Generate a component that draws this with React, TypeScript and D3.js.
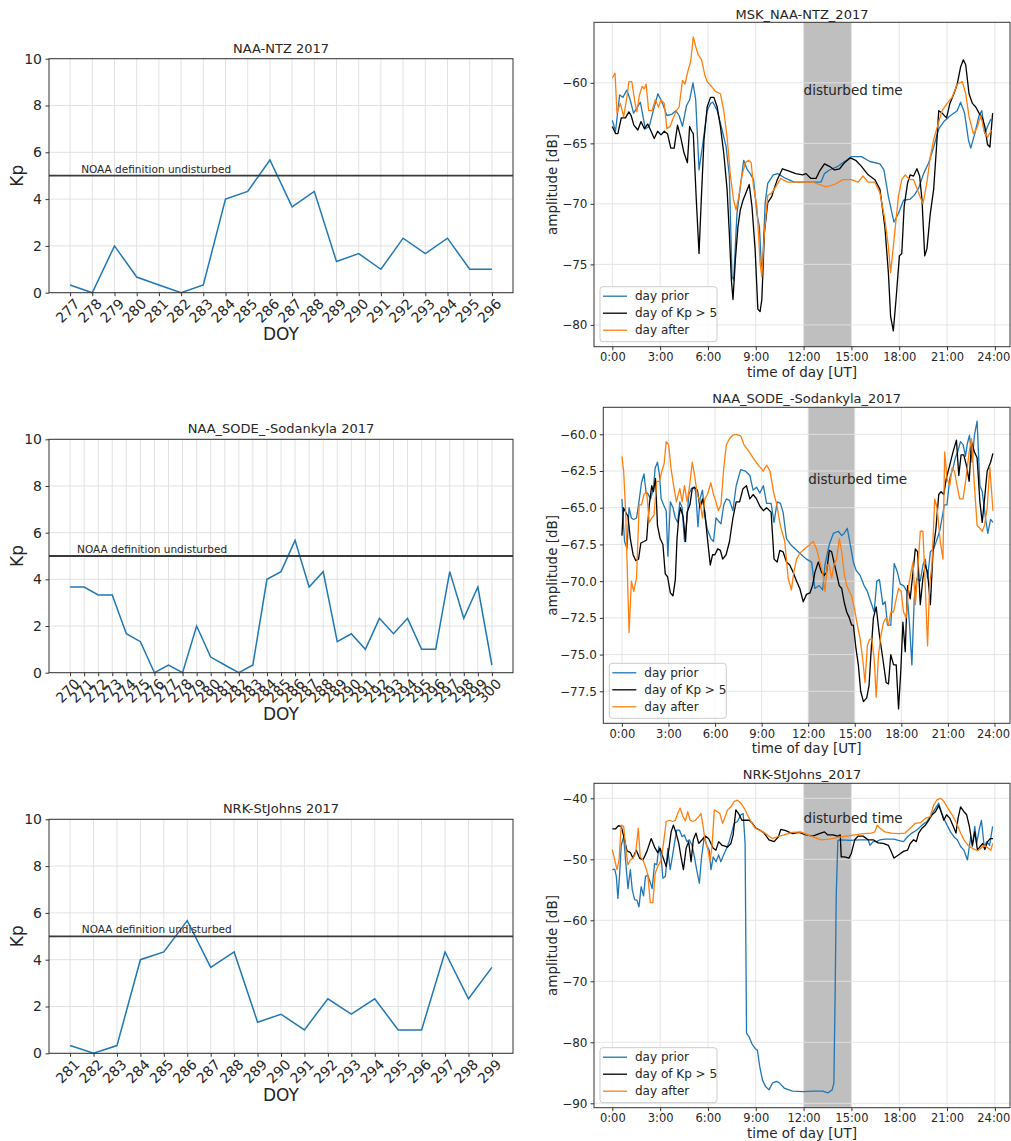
import React, { useRef, useEffect } from 'react';
import * as d3 from 'd3';

// Kp index per day of year
const ntzDoy = [277, 278, 279, 280, 281, 282, 283, 284, 285, 286, 287, 288, 289, 290, 291, 292, 293, 294, 295, 296];
const ntzKp = [0.33, 0, 2, 0.67, 0.33, 0, 0.33, 4, 4.33, 5.67, 3.67, 4.33, 1.33, 1.67, 1, 2.33, 1.67, 2.33, 1, 1];

const sodeDoy = [270, 271, 272, 273, 274, 275, 276, 277, 278, 279, 280, 281, 282, 283, 284, 285, 286, 287, 288, 289, 290, 291, 292, 293, 294, 295, 296, 297, 298, 299, 300];
const sodeKp = [3.67, 3.67, 3.33, 3.33, 1.67, 1.33, 0, 0.33, 0, 2, 0.67, 0.33, 0, 0.33, 4, 4.33, 5.67, 3.67, 4.33, 1.33, 1.67, 1, 2.33, 1.67, 2.33, 1, 1, 4.33, 2.33, 3.67, 0.33];

const stjDoy = [281, 282, 283, 284, 285, 286, 287, 288, 289, 290, 291, 292, 293, 294, 295, 296, 297, 298, 299];
const stjKp = [0.33, 0, 0.33, 4, 4.33, 5.67, 3.67, 4.33, 1.33, 1.67, 1, 2.33, 1.67, 2.33, 1, 1, 4.33, 2.33, 3.67];

const kpTicks = [0, 2, 4, 6, 8, 10];
const kpThreshold = 5;

const hourTicks = [0, 3, 6, 9, 12, 15, 18, 21, 24];
const hourLabels = ['0:00', '3:00', '6:00', '9:00', '12:00', '15:00', '18:00', '21:00', '24:00'];
const disturbedSpan = [12, 15];
const seriesNames = ['day prior', 'day of Kp > 5', 'day after'];

// amplitude [dB] vs hour of day, [hour, dB]
const ntzPrior = [[0,-63.1],[0.2,-64.0],[0.46,-61.0],[0.66,-61.2],[0.91,-60.6],[1.12,-61.4],[1.33,-62.5],[1.62,-61.9],[1.76,-61.6],[2.07,-63.8],[2.32,-63.6],[2.57,-62.3],[2.86,-60.9],[3.15,-61.7],[3.42,-62.7],[3.73,-62.6],[3.98,-62.3],[4.19,-62.7],[4.4,-63.6],[4.65,-61.9],[4.85,-61.4],[5.06,-60.0],[5.23,-61.4],[5.44,-67.2],[5.68,-65.0],[5.95,-62.3],[6.16,-61.7],[6.31,-61.6],[6.58,-62.3],[6.89,-63.9],[7.14,-65.3],[7.34,-67.7],[7.51,-76.0],[7.61,-76.3],[7.82,-70.8],[8.03,-68.6],[8.24,-66.4],[8.44,-67.1],[8.65,-67.5],[8.86,-68.0],[9.07,-70.8],[9.23,-71.9],[9.34,-74.9],[9.42,-75.4],[9.59,-69.9],[9.75,-68.3],[10.1,-67.6],[10.37,-67.5],[10.88,-67.9],[11.41,-68.2],[12,-68.2],[12.78,-68.2],[13.1,-68.2],[13.31,-67.5],[13.62,-67.2],[14.15,-66.9],[14.57,-66.5],[15.0,-66.1],[15.63,-66.1],[16.16,-66.5],[16.79,-66.7],[17.04,-67.2],[17.32,-69.4],[17.67,-71.5],[17.95,-70.8],[18.27,-69.7],[18.69,-69.6],[18.94,-69.3],[19.22,-68.7],[19.53,-67.5],[19.85,-66.6],[20.16,-65.3],[20.48,-63.8],[20.8,-63.2],[21.22,-62.7],[21.64,-62.3],[21.85,-61.6],[22.1,-62.5],[22.34,-64.7],[22.49,-65.4],[22.74,-64.2],[23.01,-62.7],[23.18,-62.3],[23.37,-64.2],[23.54,-63.6],[23.75,-63.0]];
const ntzStorm = [[0,-63.6],[0.21,-64.2],[0.35,-64.2],[0.56,-62.9],[0.83,-62.9],[1.04,-62.4],[1.18,-62.7],[1.35,-63.5],[1.6,-63.9],[1.8,-63.2],[2.01,-63.8],[2.22,-63.4],[2.43,-64.0],[2.63,-64.6],[2.84,-64.0],[3.05,-64.3],[3.26,-64.0],[3.46,-64.2],[3.67,-65.4],[3.88,-65.4],[4.09,-63.5],[4.29,-64.5],[4.5,-65.8],[4.71,-66.6],[4.85,-63.6],[4.98,-64.0],[5.08,-64.2],[5.27,-69.7],[5.44,-74.1],[5.58,-69.7],[5.75,-64.7],[5.95,-62.0],[6.16,-61.2],[6.37,-61.2],[6.58,-62.0],[6.78,-63.6],[6.99,-65.8],[7.2,-68.8],[7.34,-72.4],[7.47,-76.3],[7.57,-77.9],[7.72,-74.6],[7.88,-71.9],[8.03,-70.5],[8.2,-69.7],[8.38,-69.1],[8.59,-68.4],[8.76,-70.2],[8.96,-73.8],[9.13,-78.7],[9.27,-78.9],[9.38,-77.9],[9.54,-72.4],[9.75,-69.9],[10.0,-69.4],[10.14,-68.8],[10.35,-68.0],[10.67,-67.1],[11.09,-67.3],[11.51,-67.5],[11.94,-67.6],[12.15,-67.5],[12.46,-67.9],[12.78,-67.9],[13.0,-67.3],[13.31,-66.7],[13.62,-66.9],[13.94,-67.2],[14.26,-67.1],[14.57,-66.6],[14.93,-66.2],[15.27,-66.4],[15.63,-66.9],[16.05,-67.6],[16.47,-68.0],[16.79,-68.8],[17.1,-71.9],[17.32,-75.7],[17.46,-79.3],[17.63,-80.5],[17.8,-77.9],[18.01,-74.3],[18.16,-74.1],[18.31,-70.2],[18.52,-68.3],[18.69,-67.6],[18.9,-67.7],[19.11,-67.1],[19.28,-67.7],[19.43,-69.7],[19.6,-74.3],[19.74,-73.7],[19.95,-70.8],[20.16,-68.8],[20.33,-65.5],[20.48,-62.3],[20.69,-62.5],[20.97,-62.9],[21.18,-61.7],[21.43,-60.9],[21.64,-60.1],[21.85,-58.7],[22.02,-58.1],[22.17,-58.5],[22.38,-60.9],[22.59,-61.7],[22.8,-62.0],[23.01,-62.5],[23.22,-62.9],[23.37,-63.6],[23.54,-65.1],[23.69,-65.3],[23.86,-62.5]];
const ntzAfter = [[0,-59.6],[0.17,-59.2],[0.29,-62.5],[0.5,-61.7],[0.71,-62.8],[0.91,-61.2],[1.04,-59.9],[1.22,-59.9],[1.43,-61.7],[1.54,-62.4],[1.7,-61.0],[1.87,-60.3],[2.01,-60.5],[2.12,-60.1],[2.28,-62.3],[2.49,-62.3],[2.7,-61.4],[2.9,-62.0],[3.05,-61.4],[3.26,-61.7],[3.42,-63.8],[3.63,-63.6],[3.82,-62.9],[4.02,-62.3],[4.19,-62.0],[4.4,-59.8],[4.56,-60.1],[4.75,-59.0],[4.92,-58.2],[5.08,-56.2],[5.23,-57.0],[5.39,-57.7],[5.6,-58.1],[5.81,-59.4],[5.95,-59.9],[6.22,-60.3],[6.47,-60.7],[6.78,-60.9],[6.99,-62.3],[7.2,-64.5],[7.41,-67.7],[7.61,-69.7],[7.76,-70.5],[7.93,-69.4],[8.13,-67.7],[8.34,-66.6],[8.55,-66.4],[8.71,-66.6],[8.86,-68.6],[9.07,-70.2],[9.27,-74.9],[9.38,-76.0],[9.54,-72.4],[9.75,-69.3],[10.0,-69.1],[10.25,-68.6],[10.57,-67.9],[10.99,-68.2],[11.51,-68.2],[12,-68.2],[12.57,-68.2],[12.99,-68.4],[13.41,-68.6],[13.94,-68.4],[14.47,-68.0],[15.0,-68.0],[15.42,-68.2],[15.73,-67.7],[16.05,-68.2],[16.47,-68.2],[16.79,-69.1],[17.1,-71.3],[17.32,-73.5],[17.46,-75.7],[17.67,-73.0],[17.95,-69.4],[18.16,-68.0],[18.37,-67.6],[18.65,-68.0],[18.9,-68.0],[19.22,-69.1],[19.49,-70.0],[19.74,-68.2],[19.95,-66.1],[20.16,-64.7],[20.42,-63.5],[20.69,-62.3],[21.0,-61.7],[21.32,-61.2],[21.64,-60.1],[21.96,-59.9],[22.17,-60.9],[22.38,-62.8],[22.65,-64.2],[22.86,-63.8],[23.12,-62.7],[23.33,-64.0],[23.54,-64.5],[23.79,-63.9]];

const sodePrior = [[0,-64.4],[0.07,-65.7],[0.17,-67.3],[0.33,-67.8],[0.46,-65.0],[0.61,-65.7],[0.76,-65.8],[0.94,-65.7],[1.11,-64.5],[1.26,-63.3],[1.42,-62.7],[1.55,-63.9],[1.7,-64.1],[1.85,-64.4],[2.03,-63.7],[2.14,-62.3],[2.29,-61.9],[2.42,-62.8],[2.53,-64.4],[2.68,-64.8],[2.85,-65.2],[2.96,-68.3],[3.12,-64.6],[3.29,-65.0],[3.44,-65.7],[3.59,-66.0],[3.73,-64.6],[3.88,-65.0],[4.03,-67.3],[4.2,-65.7],[4.31,-64.1],[4.47,-63.7],[4.64,-63.6],[4.75,-63.9],[4.9,-66.3],[5.03,-64.4],[5.19,-63.8],[5.34,-65.6],[5.51,-66.5],[5.73,-67.1],[5.9,-67.3],[6.06,-65.7],[6.21,-65.9],[6.38,-66.1],[6.56,-64.8],[6.73,-64.4],[6.93,-64.5],[7.15,-65.2],[7.36,-63.5],[7.65,-62.4],[7.95,-62.5],[8.24,-62.8],[8.45,-63.8],[8.67,-63.6],[8.89,-64.0],[9.11,-63.5],[9.32,-64.7],[9.61,-64.7],[9.8,-66.0],[10.0,-64.6],[10.21,-64.7],[10.38,-65.3],[10.6,-67.1],[10.86,-67.5],[11.25,-67.9],[11.57,-68.2],[11.89,-68.5],[12.22,-68.7],[12.43,-70.5],[12.71,-70.3],[12.93,-70.6],[13.08,-68.9],[13.36,-67.5],[13.62,-66.75],[13.94,-66.6],[14.16,-66.9],[14.31,-66.75],[14.52,-66.4],[14.69,-67.4],[14.91,-68.7],[15.08,-69.25],[15.34,-69.6],[15.6,-70.3],[15.81,-70.7],[16.03,-71.4],[16.25,-72.1],[16.42,-70.0],[16.59,-69.9],[16.81,-71.6],[16.96,-71.4],[17.11,-73.0],[17.32,-73.0],[17.54,-68.8],[17.75,-69.4],[17.93,-70.2],[18.14,-70.3],[18.36,-70.7],[18.53,-73.0],[18.68,-75.7],[18.83,-71.2],[19.0,-69.8],[19.22,-70.0],[19.39,-68.9],[19.54,-68.5],[19.69,-69.8],[19.87,-68.0],[20.08,-67.8],[20.25,-67.3],[20.47,-66.6],[20.62,-65.7],[20.77,-64.8],[20.94,-64.8],[21.12,-63.0],[21.33,-62.3],[21.48,-61.6],[21.63,-61.2],[21.81,-60.5],[21.98,-60.7],[22.13,-61.5],[22.24,-60.7],[22.39,-60.05],[22.56,-61.9],[22.71,-60.05],[22.88,-59.1],[23.06,-63.5],[23.21,-63.9],[23.42,-65.7],[23.57,-66.75],[23.75,-65.8],[23.9,-66.0]];
const sodeStorm = [[0,-66.9],[0.1,-65.0],[0.24,-65.3],[0.39,-65.6],[0.54,-67.1],[0.72,-68.2],[0.89,-68.6],[1.07,-68.5],[1.22,-67.4],[1.42,-67.3],[1.59,-67.2],[1.76,-64.8],[1.92,-63.5],[2.03,-63.9],[2.16,-63.0],[2.29,-66.2],[2.46,-67.1],[2.64,-67.5],[2.79,-69.5],[2.94,-69.7],[3.12,-70.8],[3.29,-71.0],[3.44,-69.9],[3.55,-67.1],[3.66,-65.7],[3.77,-65.0],[3.94,-65.6],[4.1,-67.3],[4.2,-65.3],[4.38,-64.8],[4.53,-63.7],[4.68,-63.6],[4.86,-63.8],[5.03,-65.0],[5.19,-64.4],[5.34,-65.3],[5.51,-67.1],[5.69,-68.9],[5.84,-68.2],[5.99,-68.2],[6.17,-67.8],[6.34,-67.9],[6.49,-68.5],[6.71,-68.2],[6.93,-67.3],[7.15,-65.7],[7.36,-64.6],[7.58,-64.6],[7.8,-63.7],[8.02,-63.5],[8.24,-64.4],[8.45,-64.1],[8.67,-64.4],[8.89,-64.9],[9.11,-65.2],[9.32,-65.0],[9.61,-65.3],[9.8,-68.5],[10.0,-68.7],[10.17,-67.9],[10.38,-68.0],[10.6,-68.7],[10.81,-68.9],[11.03,-69.4],[11.25,-70.0],[11.46,-70.5],[11.68,-71.4],[11.89,-70.9],[12.11,-70.8],[12.28,-70.3],[12.43,-69.4],[12.65,-68.7],[12.86,-69.4],[13.03,-69.6],[13.18,-69.4],[13.36,-67.9],[13.51,-68.0],[13.66,-68.7],[13.83,-69.5],[14.0,-70.3],[14.16,-70.5],[14.31,-71.4],[14.48,-72.1],[14.65,-72.5],[14.8,-73.0],[14.91,-73.0],[15.08,-74.6],[15.23,-75.7],[15.38,-77.5],[15.56,-78.2],[15.77,-77.95],[15.92,-77.1],[16.05,-74.8],[16.2,-72.5],[16.38,-71.75],[16.59,-73.7],[16.81,-75.3],[17.02,-76.9],[17.17,-77.0],[17.32,-75.0],[17.5,-75.7],[17.67,-75.7],[17.82,-78.7],[17.97,-76.0],[18.1,-72.8],[18.25,-74.8],[18.4,-70.3],[18.57,-71.2],[18.75,-69.4],[18.9,-67.8],[19.05,-68.0],[19.22,-71.6],[19.39,-69.8],[19.54,-68.9],[19.69,-69.4],[19.87,-71.6],[20.04,-68.0],[20.23,-66.4],[20.41,-64.1],[20.56,-63.9],[20.73,-64.1],[20.9,-63.0],[21.12,-62.1],[21.33,-61.2],[21.55,-60.4],[21.7,-62.8],[21.85,-61.4],[22.02,-61.4],[22.19,-62.1],[22.37,-63.2],[22.52,-60.5],[22.71,-61.2],[22.88,-61.6],[23.06,-64.6],[23.21,-66.0],[23.36,-64.4],[23.53,-62.5],[23.75,-61.9],[23.9,-61.3]];
const sodeAfter = [[0,-61.5],[0.11,-62.5],[0.24,-65.3],[0.35,-69.4],[0.46,-73.5],[0.61,-70.0],[0.76,-70.7],[0.94,-69.8],[1.11,-64.8],[1.26,-64.8],[1.42,-64.1],[1.59,-63.9],[1.76,-66.0],[1.92,-65.7],[2.07,-65.5],[2.24,-63.2],[2.42,-63.2],[2.57,-62.5],[2.72,-62.0],[2.85,-60.5],[3.01,-60.7],[3.16,-62.3],[3.33,-63.5],[3.51,-64.6],[3.73,-63.7],[3.88,-64.6],[4.03,-63.5],[4.2,-64.6],[4.36,-63.5],[4.53,-61.9],[4.68,-62.8],[4.86,-64.1],[5.03,-64.6],[5.19,-65.7],[5.34,-64.4],[5.51,-64.1],[5.73,-63.3],[5.9,-64.1],[6.06,-64.6],[6.21,-65.2],[6.38,-64.8],[6.56,-62.3],[6.73,-60.7],[6.93,-60.3],[7.15,-60.05],[7.36,-60.0],[7.65,-60.1],[7.86,-60.7],[8.13,-61.1],[8.45,-61.6],[8.78,-62.1],[9.11,-62.5],[9.32,-62.1],[9.54,-62.5],[9.8,-64.1],[9.98,-64.8],[10.2,-66.2],[10.49,-67.3],[10.71,-69.8],[10.92,-70.6],[11.07,-69.4],[11.25,-68.5],[11.46,-68.1],[11.78,-67.8],[12.11,-67.5],[12.32,-67.3],[12.54,-67.8],[12.75,-68.7],[12.93,-69.4],[13.08,-70.7],[13.23,-68.9],[13.36,-68.9],[13.51,-69.8],[13.66,-68.9],[13.83,-68.5],[14.0,-67.1],[14.16,-68.0],[14.31,-69.4],[14.48,-70.3],[14.65,-70.7],[14.8,-71.0],[15.02,-72.1],[15.17,-73.0],[15.34,-73.9],[15.51,-75.3],[15.66,-76.9],[15.81,-74.4],[15.94,-74.0],[16.09,-73.9],[16.25,-75.3],[16.38,-77.9],[16.53,-75.0],[16.68,-73.7],[16.85,-72.8],[17.02,-72.5],[17.17,-73.0],[17.32,-72.1],[17.5,-72.1],[17.67,-71.2],[17.82,-70.5],[17.99,-70.7],[18.14,-72.1],[18.31,-72.5],[18.47,-70.3],[18.62,-69.4],[18.75,-68.7],[18.9,-71.6],[19.05,-69.4],[19.22,-66.6],[19.39,-66.6],[19.54,-70.3],[19.69,-74.4],[19.82,-70.3],[19.97,-68.9],[20.15,-64.4],[20.3,-65.0],[20.51,-67.3],[20.68,-68.5],[20.79,-61.2],[20.94,-63.0],[21.12,-63.5],[21.27,-62.3],[21.42,-62.5],[21.59,-63.5],[21.76,-64.4],[21.98,-64.4],[22.19,-62.8],[22.37,-61.2],[22.52,-60.3],[22.71,-63.5],[22.88,-66.2],[23.06,-66.4],[23.21,-66.6],[23.36,-66.2],[23.53,-65.0],[23.7,-62.2],[23.9,-65.2]];

const stjPrior = [[0,-51.7],[0.15,-51.6],[0.25,-52.8],[0.35,-56.4],[0.46,-52.3],[0.56,-47.7],[0.71,-46.3],[0.83,-50.1],[0.98,-54.8],[1.13,-51.7],[1.25,-55.0],[1.4,-56.6],[1.54,-56.7],[1.67,-57.8],[1.81,-54.5],[1.96,-56.0],[2.08,-52.8],[2.23,-52.6],[2.33,-53.4],[2.5,-54.8],[2.65,-50.7],[2.79,-50.9],[2.92,-47.9],[3.06,-49.6],[3.17,-53.1],[3.33,-52.8],[3.48,-48.2],[3.63,-51.7],[3.75,-49.8],[3.9,-47.4],[4.04,-45.2],[4.21,-45.2],[4.38,-46.3],[4.52,-46.0],[4.67,-47.1],[4.83,-46.8],[5.0,-47.7],[5.15,-49.6],[5.29,-51.7],[5.46,-53.9],[5.6,-49.6],[5.77,-46.3],[5.92,-47.7],[6.08,-48.5],[6.19,-51.7],[6.33,-49.6],[6.5,-50.4],[6.67,-49.3],[6.81,-50.4],[6.98,-49.3],[7.17,-48.2],[7.33,-47.1],[7.5,-45.5],[7.65,-44.1],[7.85,-43.8],[8.06,-42.7],[8.21,-42.5],[8.33,-47.4],[8.42,-78.5],[8.58,-79.1],[8.75,-80.2],[8.96,-81.0],[9.1,-81.3],[9.25,-84.0],[9.42,-86.2],[9.63,-87.3],[9.83,-87.8],[10.04,-86.7],[10.29,-86.4],[10.46,-86.6],[10.78,-87.5],[11.3,-88.0],[12.0,-88.1],[12.57,-88.0],[13.2,-88.0],[13.52,-88.3],[13.79,-87.8],[13.9,-86.7],[13.98,-72.0],[14.05,-55.6],[14.15,-46.9],[14.36,-46.8],[14.89,-46.9],[15.52,-46.8],[16.05,-46.8],[16.16,-47.7],[16.37,-47.1],[16.58,-47.1],[16.79,-46.8],[17.1,-46.7],[17.42,-46.7],[17.67,-46.7],[17.95,-46.9],[18.27,-47.1],[18.52,-46.3],[18.79,-45.7],[19.11,-45.2],[19.43,-44.4],[19.74,-43.8],[20.06,-42.5],[20.33,-41.4],[20.48,-40.8],[20.63,-42.2],[20.8,-43.3],[21.0,-44.4],[21.22,-45.5],[21.43,-46.3],[21.64,-46.8],[21.85,-47.9],[22.06,-48.5],[22.28,-50.1],[22.4,-47.9],[22.49,-46.3],[22.59,-47.9],[22.74,-44.6],[22.86,-47.4],[23.01,-45.2],[23.16,-43.6],[23.33,-47.9],[23.5,-47.1],[23.67,-47.7],[23.86,-44.6]];
const stjStorm = [[0,-45.0],[0.21,-45.0],[0.38,-44.5],[0.56,-44.6],[0.77,-46.8],[0.92,-48.6],[1.13,-48.9],[1.29,-49.8],[1.5,-48.5],[1.71,-49.8],[1.92,-50.1],[2.17,-48.7],[2.44,-46.6],[2.65,-48.0],[2.85,-48.9],[3.0,-48.2],[3.17,-49.6],[3.38,-51.2],[3.54,-48.5],[3.69,-45.5],[3.83,-44.4],[4.0,-45.7],[4.17,-47.4],[4.31,-49.6],[4.46,-51.7],[4.63,-48.2],[4.79,-47.1],[4.94,-50.4],[5.08,-46.8],[5.25,-45.7],[5.42,-47.4],[5.63,-46.8],[5.83,-46.2],[6.04,-46.6],[6.19,-47.4],[6.33,-48.2],[6.5,-48.5],[6.67,-47.1],[6.88,-47.7],[7.02,-47.8],[7.23,-48.0],[7.44,-47.4],[7.58,-46.0],[7.75,-41.9],[7.92,-42.5],[8.13,-43.6],[8.38,-43.6],[8.58,-43.6],[8.79,-44.1],[9.0,-44.9],[9.25,-45.2],[9.52,-45.7],[9.83,-46.8],[10.15,-47.1],[10.42,-46.3],[10.57,-45.1],[10.88,-45.3],[11.3,-45.8],[11.73,-45.6],[12.15,-46.0],[12.57,-46.2],[12.99,-45.8],[13.31,-45.5],[13.52,-46.0],[13.84,-46.0],[14.15,-46.2],[14.3,-46.0],[14.36,-49.6],[14.57,-49.6],[14.85,-49.8],[15.0,-49.0],[15.21,-46.8],[15.42,-46.2],[15.73,-46.2],[16.05,-46.8],[16.37,-46.8],[16.68,-47.3],[17.0,-47.4],[17.32,-47.7],[17.46,-48.5],[17.67,-49.8],[17.95,-49.3],[18.27,-48.7],[18.52,-48.5],[18.69,-47.4],[18.9,-46.8],[19.07,-47.1],[19.22,-45.7],[19.43,-44.9],[19.64,-44.4],[19.85,-43.6],[20.06,-42.7],[20.27,-42.2],[20.48,-41.2],[20.63,-42.2],[20.8,-43.6],[20.97,-42.7],[21.18,-43.3],[21.39,-44.6],[21.56,-45.7],[21.69,-43.3],[21.85,-41.4],[22.06,-42.2],[22.23,-42.7],[22.4,-44.6],[22.59,-47.7],[22.74,-45.5],[22.91,-48.5],[23.08,-47.9],[23.24,-47.4],[23.37,-48.4],[23.54,-47.1],[23.71,-46.6],[23.88,-46.6]];
const stjAfter = [[0,-48.4],[0.15,-50.1],[0.29,-51.7],[0.42,-50.1],[0.56,-44.4],[0.71,-44.6],[0.83,-47.9],[0.98,-50.9],[1.13,-50.1],[1.29,-49.8],[1.46,-49.0],[1.63,-44.9],[1.75,-49.6],[1.92,-50.1],[2.08,-51.2],[2.23,-52.6],[2.38,-57.1],[2.54,-57.1],[2.69,-52.3],[2.85,-51.2],[3.06,-50.1],[3.21,-47.4],[3.38,-43.8],[3.58,-43.6],[3.79,-43.8],[3.96,-43.6],[4.1,-42.5],[4.25,-41.6],[4.42,-42.9],[4.58,-43.7],[4.73,-42.2],[4.88,-43.6],[5.04,-43.8],[5.21,-43.6],[5.42,-43.0],[5.56,-42.5],[5.67,-44.1],[5.81,-46.8],[5.98,-48.2],[6.13,-50.4],[6.25,-47.9],[6.4,-41.9],[6.6,-42.2],[6.75,-42.5],[6.92,-44.1],[7.08,-43.0],[7.23,-41.9],[7.44,-41.4],[7.65,-40.5],[7.85,-40.3],[8.06,-40.8],[8.27,-41.6],[8.48,-42.7],[8.69,-43.8],[8.96,-44.9],[9.21,-45.2],[9.46,-45.5],[9.73,-46.0],[10.04,-46.6],[10.35,-46.3],[10.78,-46.0],[11.3,-45.6],[11.83,-45.5],[12.25,-46.0],[12.68,-46.4],[13.1,-46.8],[13.62,-46.7],[14.15,-46.4],[14.68,-46.2],[15.21,-46.0],[15.73,-45.8],[16.26,-45.7],[16.47,-45.5],[16.62,-44.4],[16.79,-44.9],[17.1,-45.5],[17.52,-45.7],[17.95,-45.8],[18.37,-45.7],[18.69,-44.9],[19.01,-44.1],[19.32,-44.0],[19.64,-43.3],[19.95,-43.0],[20.16,-41.1],[20.38,-40.2],[20.59,-40.0],[20.8,-40.5],[21.05,-41.6],[21.32,-42.7],[21.6,-44.1],[21.85,-45.7],[22.06,-46.8],[22.32,-47.7],[22.59,-48.2],[22.91,-48.6],[23.12,-48.2],[23.33,-47.7],[23.59,-48.2],[23.75,-48.5],[23.86,-47.4]];

const FONT = '"DejaVu Sans", sans-serif';
const TEXT = '#262626';
const SPINE = '#333333';
const GRID = '#e2e2e2';
const colors = ['#1f77b4', '#000000', '#ff7f0e'];

function styleAxis(g, size) {
  g.attr('font-family', FONT).attr('font-size', size).attr('color', SPINE);
  g.select('.domain').remove();
  g.selectAll('.tick text').attr('fill', TEXT);
}

function drawKp(svg, cfg) {
  const { title, doy, kp, top, bottom, titleY, labelY } = cfg;
  const left = 49, right = 513;
  const first = doy[0], last = doy[doy.length - 1];
  const pad = (last - first) * 0.05;
  const x = d3.scaleLinear().domain([first - pad, last + pad]).range([left, right]);
  const y = d3.scaleLinear().domain([0, 10]).range([bottom, top]);
  const g = svg.append('g');

  g.append('g').selectAll('line').data(doy).join('line')
    .attr('x1', d => x(d)).attr('x2', d => x(d)).attr('y1', top).attr('y2', bottom)
    .attr('stroke', GRID).attr('stroke-width', 1);
  g.append('g').selectAll('line').data(kpTicks).join('line')
    .attr('x1', left).attr('x2', right).attr('y1', d => y(d)).attr('y2', d => y(d))
    .attr('stroke', GRID).attr('stroke-width', 1);

  const line = d3.line().x(d => x(d[0])).y(d => y(d[1]));
  g.append('path').datum(doy.map((d, i) => [d, kp[i]]))
    .attr('d', line).attr('fill', 'none').attr('stroke', colors[0]).attr('stroke-width', 1.5);

  g.append('line').attr('x1', left).attr('x2', right)
    .attr('y1', y(kpThreshold)).attr('y2', y(kpThreshold))
    .attr('stroke', '#3a3a3a').attr('stroke-width', 1.8);
  g.append('text').attr('x', x(first + 0.5)).attr('y', y(kpThreshold) - 3)
    .attr('font-family', FONT).attr('font-size', 10.5).attr('fill', TEXT)
    .text('NOAA definition undisturbed');

  g.append('rect').attr('x', left).attr('y', top).attr('width', right - left).attr('height', bottom - top)
    .attr('fill', 'none').attr('stroke', SPINE).attr('stroke-width', 1);

  const xa = g.append('g').attr('transform', `translate(0,${bottom})`)
    .call(d3.axisBottom(x).tickValues(doy).tickSize(3.5).tickFormat(d3.format('d')));
  styleAxis(xa, 14);
  xa.selectAll('.tick text')
    .attr('y', 0).attr('dy', null)
    .attr('text-anchor', 'middle').attr('dominant-baseline', 'central')
    .attr('transform', 'translate(-3,18) rotate(-45)');

  const ya = g.append('g').attr('transform', `translate(${left},0)`)
    .call(d3.axisLeft(y).tickValues(kpTicks).tickSize(3.5).tickPadding(3.5).tickFormat(d3.format('d')));
  styleAxis(ya, 14);

  g.append('text').attr('x', (left + right) / 2).attr('y', titleY).attr('text-anchor', 'middle')
    .attr('font-family', FONT).attr('font-size', 13).attr('fill', TEXT).text(title);
  g.append('text').attr('x', (left + right) / 2).attr('y', labelY).attr('text-anchor', 'middle')
    .attr('font-family', FONT).attr('font-size', 17).attr('fill', TEXT).text('DOY');
  g.append('text').attr('transform', `translate(23,${(top + bottom) / 2}) rotate(-90)`)
    .attr('text-anchor', 'middle')
    .attr('font-family', FONT).attr('font-size', 17).attr('fill', TEXT).text('Kp');
}

function drawAmp(svg, cfg) {
  const { title, left, top, bottom, xDomain, yDomain, yTicks, yFormat, series, spanTextY, titleY, labelY } = cfg;
  const right = 1010;
  const x = d3.scaleLinear().domain(xDomain).range([left, right]);
  const y = d3.scaleLinear().domain(yDomain).range([bottom, top]);
  const g = svg.append('g');

  g.append('rect').attr('x', x(disturbedSpan[0])).attr('y', top)
    .attr('width', x(disturbedSpan[1]) - x(disturbedSpan[0])).attr('height', bottom - top)
    .attr('fill', '#bfbfbf');

  g.append('g').selectAll('line').data(hourTicks).join('line')
    .attr('x1', d => x(d)).attr('x2', d => x(d)).attr('y1', top).attr('y2', bottom)
    .attr('stroke', GRID).attr('stroke-opacity', 0.9).attr('stroke-width', 1);
  g.append('g').selectAll('line').data(yTicks).join('line')
    .attr('x1', left).attr('x2', right).attr('y1', d => y(d)).attr('y2', d => y(d))
    .attr('stroke', GRID).attr('stroke-opacity', 0.9).attr('stroke-width', 1);

  const line = d3.line().x(d => x(d[0])).y(d => y(d[1]));
  series.forEach((s, i) => {
    g.append('path').datum(s).attr('d', line).attr('fill', 'none')
      .attr('stroke', colors[i]).attr('stroke-width', 1.3).attr('stroke-linejoin', 'round');
  });

  g.append('text').attr('x', x(disturbedSpan[0])).attr('y', y(spanTextY))
    .attr('font-family', FONT).attr('font-size', 13.5).attr('fill', TEXT).text('disturbed time');

  // legend, lower left
  const lx = left + 6, lh = 55, ly = bottom - 5 - lh;
  const lg = g.append('g');
  lg.append('rect').attr('x', lx).attr('y', ly).attr('width', 117).attr('height', lh).attr('rx', 3)
    .attr('fill', 'white').attr('fill-opacity', 0.8).attr('stroke', '#cccccc');
  seriesNames.forEach((name, i) => {
    const ry = ly + 9.5 + i * 17;
    lg.append('line').attr('x1', lx + 3).attr('x2', lx + 27).attr('y1', ry).attr('y2', ry)
      .attr('stroke', colors[i]).attr('stroke-width', 1.3);
    lg.append('text').attr('x', lx + 35).attr('y', ry).attr('dominant-baseline', 'central')
      .attr('font-family', FONT).attr('font-size', 12).attr('fill', TEXT).text(name);
  });

  g.append('rect').attr('x', left).attr('y', top).attr('width', right - left).attr('height', bottom - top)
    .attr('fill', 'none').attr('stroke', SPINE).attr('stroke-width', 1);

  const xa = g.append('g').attr('transform', `translate(0,${bottom})`)
    .call(d3.axisBottom(x).tickValues(hourTicks).tickSize(3.5).tickPadding(3)
      .tickFormat((d, i) => hourLabels[i]));
  styleAxis(xa, 11.5);
  // keep the last label inside the page edge
  xa.selectAll('.tick text').filter((d) => d === hourTicks[hourTicks.length - 1]).attr('dx', -1.5);
  const ya = g.append('g').attr('transform', `translate(${left},0)`)
    .call(d3.axisLeft(y).tickValues(yTicks).tickSize(3.5).tickPadding(3).tickFormat(d3.format(yFormat)));
  styleAxis(ya, 12);

  g.append('text').attr('x', (left + right) / 2).attr('y', titleY).attr('text-anchor', 'middle')
    .attr('font-family', FONT).attr('font-size', 13).attr('fill', TEXT).text(title);
  g.append('text').attr('x', (left + right) / 2).attr('y', labelY).attr('text-anchor', 'middle')
    .attr('font-family', FONT).attr('font-size', 13.5).attr('fill', TEXT).text('time of day [UT]');
  g.append('text').attr('transform', `translate(557,${(top + bottom) / 2}) rotate(-90)`)
    .attr('text-anchor', 'middle')
    .attr('font-family', FONT).attr('font-size', 13.5).attr('fill', TEXT).text('amplitude [dB]');
}

const App = () => {
  const svgRef = useRef(null);

  useEffect(() => {
    const svg = d3.select(svgRef.current);
    svg.selectAll('*').remove();

    drawKp(svg, { title: 'NAA-NTZ 2017', doy: ntzDoy, kp: ntzKp, top: 58.7, bottom: 292.7, titleY: 52.5, labelY: 340 });
    drawKp(svg, { title: 'NAA_SODE_-Sodankyla 2017', doy: sodeDoy, kp: sodeKp, top: 439.3, bottom: 672.7, titleY: 433, labelY: 720 });
    drawKp(svg, { title: 'NRK-StJohns 2017', doy: stjDoy, kp: stjKp, top: 819.3, bottom: 1053.3, titleY: 813, labelY: 1101 });

    drawAmp(svg, {
      title: 'MSK_NAA-NTZ_2017', left: 594, top: 22.3, bottom: 346.7,
      xDomain: [-1.15, 24.95], yDomain: [-81.8, -55.0], yTicks: [-80, -75, -70, -65, -60], yFormat: 'd',
      series: [ntzPrior, ntzStorm, ntzAfter], spanTextY: -61.0, titleY: 18.5, labelY: 376.5,
    });
    drawAmp(svg, {
      title: 'NAA_SODE_-Sodankyla_2017', left: 603.3, top: 407.3, bottom: 723.3,
      xDomain: [-1.2, 25.0], yDomain: [-79.68, -58.16], yTicks: [-77.5, -75, -72.5, -70, -67.5, -65, -62.5, -60], yFormat: '.1f',
      series: [sodePrior, sodeStorm, sodeAfter], spanTextY: -63.4, titleY: 402.5, labelY: 753,
    });
    drawAmp(svg, {
      title: 'NRK-StJohns_2017', left: 594, top: 783.3, bottom: 1107.7,
      xDomain: [-1.15, 24.95], yDomain: [-90.72, -37.54], yTicks: [-90, -80, -70, -60, -50, -40], yFormat: 'd',
      series: [stjPrior, stjStorm, stjAfter], spanTextY: -44.1, titleY: 779, labelY: 1137.5,
    });
  }, []);

  return (
    <svg ref={svgRef} width={1011} height={1141}
      style={{ position: 'absolute', left: 0, top: 0, background: 'white' }} />
  );
};

export default App;
